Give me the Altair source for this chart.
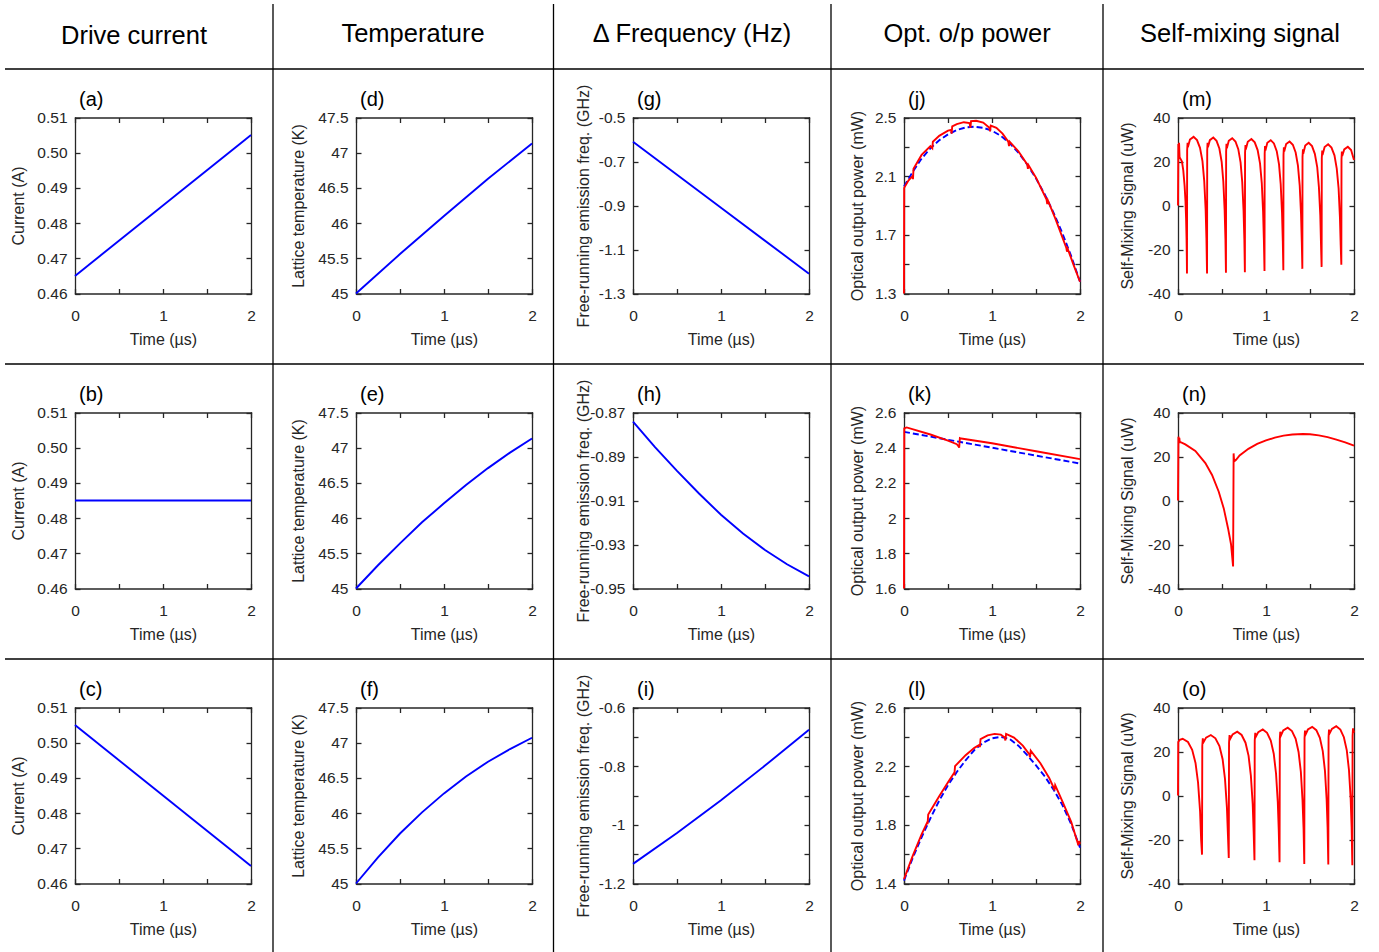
import altair as alt
import pandas as pd

# ---------------- data ----------------
headers = ["Drive current", "Temperature", "\u0394 Frequency (Hz)", "Opt. o/p power", "Self-mixing signal"]
letters = [["(a)", "(b)", "(c)"], ["(d)", "(e)", "(f)"], ["(g)", "(h)", "(i)"],
           ["(j)", "(k)", "(l)"], ["(m)", "(n)", "(o)"]]
y_titles = ["Current (A)", "Lattice temperature (K)", "Free-running emission freq. (GHz)",
            "Optical output power (mW)", "Self-Mixing Signal (uW)"]
x_title = "Time (\u00b5s)"

# drive current
a_t = [0, 2]; a_v = [0.465, 0.505]
b_t = [0, 2]; b_v = [0.485, 0.485]
c_t = [0, 2]; c_v = [0.505, 0.465]
# lattice temperature
d_t = [0, 0.5, 1, 1.5, 2]; d_v = [45.0, 45.56, 46.1, 46.63, 47.13]
e_t = [0, 0.25, 0.5, 0.75, 1, 1.25, 1.5, 1.75, 2]
e_v = [45.0, 45.33, 45.64, 45.94, 46.21, 46.47, 46.71, 46.93, 47.13]
f_t = [0, 0.25, 0.5, 0.75, 1, 1.25, 1.5, 1.75, 2]
f_v = [45.0, 45.37, 45.71, 46.01, 46.28, 46.52, 46.73, 46.91, 47.07]
# free-running frequency
g_t = [0, 1, 2]; g_v = [-0.61, -0.91, -1.21]
h_t = [0, 0.25, 0.5, 0.75, 1, 1.25, 1.5, 1.75, 2]
h_v = [-0.8741, -0.8857, -0.8965, -0.9068, -0.9165, -0.9250, -0.9325, -0.9390, -0.9445]
i_t = [0, 0.5, 1, 1.5, 2]; i_v = [-1.133, -1.028, -0.916, -0.798, -0.676]
# optical output power: blue dashed (no feedback), red (with feedback)
j_blue_t = [0, 0.1, 0.2, 0.3, 0.4, 0.5, 0.6, 0.7, 0.8, 0.9, 1.0, 1.1, 1.2, 1.3, 1.4, 1.5, 1.6, 1.7, 1.8, 1.9, 2.0]
j_blue_v = [2.03, 2.13, 2.22, 2.29, 2.345, 2.385, 2.415, 2.432, 2.437, 2.43, 2.41, 2.375, 2.325, 2.26,
            2.18, 2.085, 1.975, 1.85, 1.71, 1.555, 1.38]
j_red_t = [0, 0.002, 0.05, 0.095, 0.102, 0.108, 0.2, 0.3, 0.322, 0.328, 0.4, 0.5, 0.535, 0.541, 0.548,
           0.6, 0.68, 0.745, 0.755, 0.762, 0.82, 0.9, 0.97, 0.978, 0.986, 1.05, 1.12, 1.185, 1.193, 1.2,
           1.3, 1.4, 1.408, 1.415, 1.5, 1.62, 1.628, 1.635, 1.72, 1.845, 1.852, 1.86, 1.93, 2.0]
j_red_v = [1.3, 2.02, 2.07, 2.10, 2.08, 2.15, 2.245, 2.305, 2.29, 2.335, 2.375, 2.41, 2.415, 2.39, 2.44,
           2.455, 2.468, 2.462, 2.43, 2.475, 2.478, 2.465, 2.43, 2.405, 2.445, 2.43, 2.39, 2.335, 2.305, 2.335,
           2.27, 2.18, 2.15, 2.175, 2.09, 1.94, 1.91, 1.935, 1.81, 1.61, 1.585, 1.605, 1.49, 1.38]
k_blue_t = [0, 2]; k_blue_v = [2.49, 2.31]
k_red_t = [0, 0.003, 0.03, 0.3, 0.5, 0.6, 0.62, 0.627, 0.635, 0.65, 1.0, 1.5, 2.0]
k_red_v = [1.6, 2.51, 2.515, 2.475, 2.44, 2.42, 2.408, 2.40, 2.455, 2.452, 2.425, 2.38, 2.335]
l_blue_t = [0, 0.1, 0.2, 0.3, 0.4, 0.5, 0.6, 0.7, 0.8, 0.9, 1.0, 1.1, 1.2, 1.3, 1.4, 1.5, 1.6, 1.7, 1.8, 1.9, 2.0]
l_blue_v = [1.42, 1.575, 1.715, 1.845, 1.965, 2.07, 2.16, 2.24, 2.31, 2.36, 2.39, 2.40, 2.385, 2.34, 2.275,
            2.205, 2.13, 2.04, 1.935, 1.805, 1.645]
l_red_t = [0, 0.1, 0.2, 0.262, 0.268, 0.275, 0.4, 0.5, 0.565, 0.572, 0.58, 0.7, 0.8, 0.855, 0.862, 0.87,
           0.95, 1.03, 1.1, 1.145, 1.152, 1.16, 1.25, 1.35, 1.425, 1.432, 1.44, 1.55, 1.65, 1.703, 1.71,
           1.718, 1.8, 1.9, 1.975, 1.98, 1.988, 2.0]
l_red_v = [1.43, 1.59, 1.735, 1.815, 1.805, 1.87, 1.995, 2.09, 2.15, 2.14, 2.2, 2.275, 2.325, 2.345, 2.33,
           2.385, 2.41, 2.42, 2.415, 2.395, 2.375, 2.42, 2.395, 2.34, 2.28, 2.26, 2.305, 2.22, 2.12, 2.05,
           2.035, 2.07, 1.96, 1.82, 1.675, 1.66, 1.69, 1.67]
# self-mixing signals
m_t = [0, 0.004, 0.008, 0.012, 0.018, 0.045, 0.06, 0.075, 0.085, 0.092, 0.097, 0.1, 0.102,
       0.104, 0.109, 0.112, 0.136, 0.177, 0.216, 0.250, 0.278, 0.298, 0.314, 0.323, 0.330,
       0.332, 0.336, 0.340, 0.362, 0.401, 0.438, 0.470, 0.496, 0.515, 0.530, 0.539, 0.545,
       0.547, 0.551, 0.555, 0.577, 0.616, 0.653, 0.685, 0.711, 0.730, 0.745, 0.754, 0.760,
       0.762, 0.767, 0.770, 0.793, 0.834, 0.872, 0.905, 0.932, 0.952, 0.967, 0.976, 0.983,
       0.985, 0.989, 0.993, 1.015, 1.054, 1.090, 1.122, 1.148, 1.167, 1.182, 1.191, 1.197,
       1.199, 1.203, 1.207, 1.229, 1.268, 1.305, 1.337, 1.363, 1.383, 1.398, 1.407, 1.413,
       1.415, 1.420, 1.423, 1.446, 1.485, 1.523, 1.555, 1.582, 1.601, 1.617, 1.625, 1.632,
       1.634, 1.639, 1.642, 1.666, 1.706, 1.744, 1.778, 1.804, 1.825, 1.840, 1.849, 1.856,
       1.858, 1.862, 1.866, 1.889, 1.930, 1.967, 2.0]
m_v = [0, 28, 26.5, 28.5, 22, 20, 16, 9, 2, -6, -15, -23, -30.9,
       25, 28.5, 26.5, 30, 31.2, 29.7, 26.2, 20.2, 11.2, -1.8, -14.8, -30.9,
       25, 28.5, 26.5, 29.7, 30.9, 29.4, 25.9, 19.9, 10.9, -2.1, -15.1, -30.6,
       24.5, 28, 26, 29.4, 30.6, 29.1, 25.6, 19.6, 10.6, -2.4, -15.4, -30.3,
       24, 27.5, 25.5, 29, 30.2, 28.7, 25.2, 19.2, 10.2, -2.8, -15.8, -29.8,
       23.5, 27, 25, 28.5, 29.7, 28.2, 24.7, 18.7, 9.7, -3.3, -16.3, -29.4,
       23, 26.5, 24.5, 27.9, 29.1, 27.6, 24.1, 18.1, 9.1, -3.9, -16.9, -28.8,
       22, 25.5, 23.5, 27.3, 28.5, 27, 23.5, 17.5, 8.5, -4.5, -17.5, -27.9,
       21.5, 25, 23, 26.6, 27.8, 26.3, 22.8, 16.8, 7.8, -5.2, -18.2, -26.9,
       21, 24.5, 22.5, 25.5, 26.7, 25.2, 20.7]
n_t = [0, 0.005, 0.01, 0.015, 0.02, 0.03, 0.083, 0.197, 0.311, 0.387, 0.463, 0.52, 0.569, 0.603,
       0.626, 0.632, 0.636, 0.645, 0.66, 0.7, 0.8, 0.9, 1.0, 1.1, 1.2, 1.3, 1.42, 1.5, 1.6, 1.7,
       1.8, 1.9, 2.0]
n_v = [0, 29, 27, 28.5, 26.5, 26.5, 25.5, 22.5, 17, 11.6, 4, -3.6, -12.7, -20,
       -30, 21.4, 19, 18, 18.5, 20.5, 23.5, 25.7, 27.3, 28.6, 29.5, 30, 30.2, 30.1, 29.6, 28.8,
       27.7, 26.4, 24.9]
o_t = [0, 0.003, 0.02, 0.053, 0.113, 0.161, 0.199, 0.228, 0.251, 0.263, 0.273,
       0.276, 0.282, 0.287, 0.319, 0.373, 0.425, 0.471, 0.507, 0.534, 0.556, 0.568, 0.577,
       0.580, 0.586, 0.590, 0.621, 0.673, 0.723, 0.767, 0.802, 0.828, 0.849, 0.860, 0.869,
       0.872, 0.878, 0.882, 0.912, 0.963, 1.012, 1.054, 1.088, 1.114, 1.134, 1.145, 1.154,
       1.157, 1.162, 1.167, 1.196, 1.247, 1.295, 1.337, 1.370, 1.396, 1.415, 1.427, 1.435,
       1.438, 1.443, 1.447, 1.476, 1.525, 1.572, 1.612, 1.645, 1.670, 1.689, 1.700, 1.708,
       1.711, 1.716, 1.720, 1.749, 1.798, 1.845, 1.885, 1.918, 1.943, 1.962, 1.973, 1.981,
       1.984, 1.989, 1.993, 2.0]
o_v = [0, 24.3, 25.3, 25.8, 24.3, 20.8, 14.8, 5.8, -7.2, -20.2, -26.9,
       22.5, 26, 24, 26.3, 27.5, 26, 22.5, 16.5, 7.5, -5.5, -18.5, -28.4,
       24, 27.5, 25.5, 27.8, 29, 27.5, 24, 18, 9, -4, -17, -29.4,
       25, 28.5, 26.5, 28.8, 30, 28.5, 25, 19, 10, -3, -16, -30.3,
       25.5, 29, 27, 29.6, 30.8, 29.3, 25.8, 19.8, 10.8, -2.2, -15.2, -31.1,
       26, 29.5, 27.5, 30, 31.2, 29.7, 26.2, 20.2, 11.2, -1.8, -14.8, -31.4,
       26.5, 30, 28, 30.3, 31.5, 30, 26.5, 20.5, 11.5, -1.5, -14.5, -31.7,
       27, 30.5, 28.5, 29.5]

# y axis set-up for each column / row: (domain, labelled values, tick values, format)
y_axes = [
    [([0.46, 0.51], [0.46, 0.47, 0.48, 0.49, 0.50, 0.51], None, ".2f")] * 3,
    [([45, 47.5], [45, 45.5, 46, 46.5, 47, 47.5], None, "~g")] * 3,
    [([-1.3, -0.5], [-1.3, -1.1, -0.9, -0.7, -0.5], None, ".1f"),
     ([-0.95, -0.87], [-0.95, -0.93, -0.91, -0.89, -0.87], None, ".2f"),
     ([-1.2, -0.6], [-1.2, -1.0, -0.8, -0.6], [-1.2, -1.1, -1.0, -0.9, -0.8, -0.7, -0.6], "~g")],
    [([1.3, 2.5], [1.3, 1.7, 2.1, 2.5], [1.3, 1.5, 1.7, 1.9, 2.1, 2.3, 2.5], "~g"),
     ([1.6, 2.6], [1.6, 1.8, 2.0, 2.2, 2.4, 2.6], None, "~g"),
     ([1.4, 2.6], [1.4, 1.8, 2.2, 2.6], [1.4, 1.6, 1.8, 2.0, 2.2, 2.4, 2.6], "~g")],
    [([-40, 40], [-40, -20, 0, 20, 40], None, ".0f")] * 3,
]

BLUE, RED = "#0000FF", "#FF0000"
series = [
    [[(a_t, a_v, BLUE, False)], [(b_t, b_v, BLUE, False)], [(c_t, c_v, BLUE, False)]],
    [[(d_t, d_v, BLUE, False)], [(e_t, e_v, BLUE, False)], [(f_t, f_v, BLUE, False)]],
    [[(g_t, g_v, BLUE, False)], [(h_t, h_v, BLUE, False)], [(i_t, i_v, BLUE, False)]],
    [[(j_blue_t, j_blue_v, BLUE, True), (j_red_t, j_red_v, RED, False)],
     [(k_blue_t, k_blue_v, BLUE, True), (k_red_t, k_red_v, RED, False)],
     [(l_blue_t, l_blue_v, BLUE, True), (l_red_t, l_red_v, RED, False)]],
    [[(m_t, m_v, RED, False)], [(n_t, n_v, RED, False)], [(o_t, o_v, RED, False)]],
]

X_TICKS = [0, 0.5, 1, 1.5, 2]
X_LABELS = [0, 1, 2]

# ---------------- layout ----------------
W, H = 1379, 952
COL_X = [75, 356, 633, 904, 1178]
ROW_Y = [117.5, 412.5, 707.5]
PW = PH = 176
Y_TITLE_DX = [-57, -58, -50, -47, -51]
COL_CENTER = [134, 413, 692, 967, 1240]
FONT = "Liberation Sans"
AXC = "#262626"
MINUS = "replace(datum.label, '\u2212', '-')"


def axis(**kw):
    base = dict(grid=False, labelFlush=False, labelOverlap=False, domainColor=AXC, tickColor=AXC,
                domainWidth=1.3, tickWidth=1.3, domainCap="square", labelFont=FONT, labelFontSize=15.5,
                labelColor=AXC, titleFont=FONT, titleFontSize=16, titleFontWeight="normal",
                titleColor=AXC)
    base.update(kw)
    return alt.Axis(**base)


layers = []
for ci in range(5):
    for ri in range(3):
        x0 = COL_X[ci]; x1 = x0 + PW
        yt = ROW_Y[ri]; yb = yt + PH
        ydom, ylab, ytk, yfmt = y_axes[ci][ri]
        ytk = ytk or ylab
        xs = alt.Scale(domain=[0, 2], range=[x0, x1], nice=False, zero=False)
        ys = alt.Scale(domain=ydom, range=[yb, yt], nice=False, zero=False)
        axis_sets = [
            (axis(orient="bottom", offset=yb - H, values=X_LABELS, format="~g", domain=False, ticks=False,
                  tickSize=0, labelPadding=15, title=x_title, titleY=50.5, titleBaseline="alphabetic"),
             axis(orient="left", offset=-x0, values=ylab, format=yfmt, labelExpr=MINUS, domain=False,
                  ticks=False, tickSize=0, labelPadding=8, title=y_titles[ci], titleX=Y_TITLE_DX[ci],
                  titleBaseline="middle")),
            (axis(orient="top", offset=-yb, values=X_TICKS, labels=False, tickSize=5, title=None),
             axis(orient="right", offset=x0 - W, values=ytk, labels=False, tickSize=5, title=None)),
            (axis(orient="bottom", offset=yt - H, values=X_TICKS, labels=False, tickSize=5, title=None),
             axis(orient="left", offset=-x1, values=ytk, labels=False, tickSize=5, title=None)),
        ]
        ser = series[ci][ri]
        for k in range(3):
            if k < len(ser):
                tt, vv, col, dashed = ser[k]
                opac = 1
            else:
                tt, vv, col, dashed = ser[0]
                opac = 0
            df = pd.DataFrame({"t": tt, "v": vv, "i": list(range(len(tt)))})
            mk = dict(color=col, strokeWidth=1.9, opacity=opac)
            if dashed:
                mk["strokeDash"] = [6, 3]
            ax_x, ax_y = axis_sets[k]
            layers.append(
                alt.Chart(df).mark_line(**mk).encode(
                    x=alt.X("t:Q", scale=xs, axis=ax_x),
                    y=alt.Y("v:Q", scale=ys, axis=ax_y),
                    order=alt.Order("i:Q"),
                )
            )
        # panel letter
        layers.append(
            alt.Chart(pd.DataFrame({"s": [letters[ci][ri]]})).mark_text(
                align="left", baseline="alphabetic", font=FONT, fontSize=20, color="black"
            ).encode(text="s:N", x=alt.value(x0 + 4), y=alt.value(yt - 11.5))
        )

# column headers
for ci in range(5):
    layers.append(
        alt.Chart(pd.DataFrame({"s": [headers[ci]]})).mark_text(
            align="center", baseline="alphabetic", font=FONT, fontSize=25.5, color="black"
        ).encode(text="s:N", x=alt.value(COL_CENTER[ci]), y=alt.value(44 if ci == 0 else 42))
    )

# separator lines
for xv in [273, 553.5, 831, 1103]:
    layers.append(alt.Chart(pd.DataFrame({"d": [0]})).mark_rule(color="black", strokeWidth=1.3).encode(
        x=alt.value(xv), y=alt.value(4), y2=alt.value(952)))
for yv in [69, 364, 659]:
    layers.append(alt.Chart(pd.DataFrame({"d": [0]})).mark_rule(color="black", strokeWidth=1.3).encode(
        y=alt.value(yv), x=alt.value(5), x2=alt.value(1364)))

chart = alt.layer(*layers).resolve_scale(x="independent", y="independent").resolve_axis(
    x="independent", y="independent"
).properties(
    width=W, height=H, autosize=alt.AutoSizeParams(type="none"), padding=0, background="white"
).configure_view(strokeWidth=0)

chart.save("out.html", embed_options={"renderer": "svg", "actions": False})
